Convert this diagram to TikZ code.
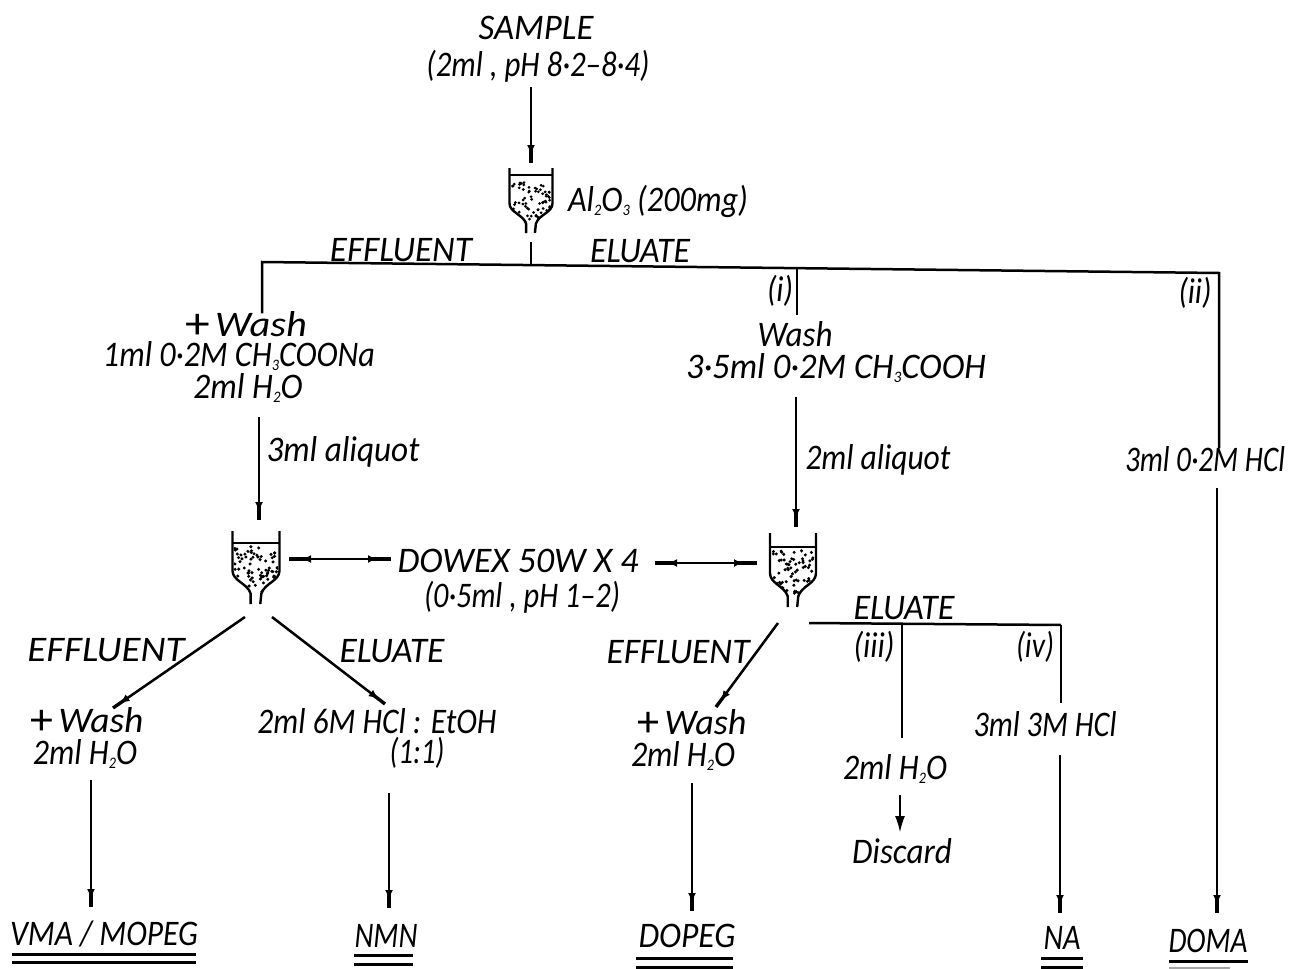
\documentclass[tikz,border=0pt]{standalone}
\usepackage{fontspec}
\usepackage{graphicx}
\setmainfont{Carlito}
\usetikzlibrary{arrows.meta,calc}
\newcommand{\low}[1]{\raisebox{-4pt}{\fontsize{16}{16}\selectfont #1}}
\newcommand{\bigplus}{\raisebox{-2pt}{\fontsize{44}{36}\selectfont\upshape +}\hspace{5pt}}
\newcommand{\fw}[2]{\resizebox{#1pt}{\height}{#2}}
\tikzset{
  lab/.style={inner sep=0pt,outer sep=0pt,text height=23.2pt,text depth=0pt,font=\fontsize{36}{36}\selectfont\itshape},
  ln/.style={line width=2.5pt,black},
  arr/.style={ln,-{Latex[length=10pt,width=8pt,sep=-6pt]Rectangle[length=14pt,width=3.4pt,sep=0pt]}},
  arrb/.style={ln,-{Latex[length=17pt,width=10pt]}},
  dbl/.style={ln,{Rectangle[length=18pt,width=3.2pt,sep=0pt]Latex[length=9pt,width=8pt,sep=-5pt]}-{Latex[length=9pt,width=8pt,sep=-5pt]Rectangle[length=19pt,width=3.2pt,sep=0pt]}},
  fnl/.style={inner sep=0pt,outer sep=0pt,draw=none},
  under/.style={line width=3pt,black},
  underfaint/.style={line width=2pt,black!35}
}
% name, centre x, top y, half width, height, bar y
\newcommand{\funnelat}[6]{%
  \node[fnl,minimum width=#4*2pt,minimum height=#5*1pt] (#1) at (#2,#3+#5/2) {};
  \begin{scope}[shift={(#2,#3)},xscale=#4/22,yscale=#5/70]
    \begin{scope}
      \clip (-21,#6*70/#5) -- (21,#6*70/#5) -- (21,38) .. controls (21,48) and (8,50) .. (5,60) -- (-5,60) .. controls (-8,50) and (-21,48) .. (-21,38) -- cycle;
      \foreach \i in {1,...,80}{
        \pgfmathsetmacro{\dx}{rnd*40-20}
        \pgfmathsetmacro{\dy}{rnd*45+15}
        \fill[black] (\dx,\dy) circle[radius=1.6];
      }
    \end{scope}
    \draw[ln,line width=2.4pt,line join=round] (-22,0) -- (-22,38) .. controls (-22,48) and (-8,50) .. (-5,60) -- (-5,70);
    \draw[ln,line width=2.4pt,line join=round] (22,0) -- (22,38) .. controls (22,48) and (8,50) .. (5,60) -- (4,70);
    \draw[ln,line width=2.4pt] (-22,#6*70/#5) -- (22,#6*70/#5);
  \end{scope}}
\begin{document}
\begin{tikzpicture}[x=1pt,y=-1pt]
\useasboundingbox (0,0) rectangle (1294,969);
\pgfmathsetseed{4711}
% funnels
\funnelat{funA}{531}{168}{21.5}{65}{7}
\funnelat{funB}{256}{531}{23.5}{73}{12}
\funnelat{funC}{793}{533}{23}{74}{14}
% labels
\node[lab] (sampleA) at (536,28) {\fw{115}{SAMPLE}};
\node[lab] (sampleB) at (538,65) {\fw{223}{(2ml , pH 8·2–8·4)}};
\node[lab] (alumina) at (658,200) {\fw{180}{Al\low{2}O\low{3} (200mg)}};
\node[lab] (effA) at (401,250) {\fw{142}{EFFLUENT}};
\node[lab] (eluA) at (640,251) {\fw{100}{ELUATE}};
\node[lab] (lblI) at (780,290) {\fw{26}{(i)}};
\node[lab] (lblII) at (1195,292) {\fw{33}{(ii)}};
\node[lab] (washA) at (246,325) {\fw{122}{\bigplus Wash}};
\node[lab] (washAb) at (239,355) {\fw{272}{1ml 0·2M CH\low{3}COONa}};
\node[lab] (washAc) at (248,387) {\fw{109}{2ml H\low{2}O}};
\node[lab] (aliqA) at (343,450) {\fw{153}{3ml aliquot}};
\node[lab] (washB) at (795,335) {\fw{75}{Wash}};
\node[lab] (washBb) at (836,367) {\fw{300}{3·5ml 0·2M CH\low{3}COOH}};
\node[lab] (aliqB) at (878,458) {\fw{145}{2ml aliquot}};
\node[lab] (hclII) at (1205,460) {\fw{160}{3ml 0·2M HCl}};
\node[lab] (dowex) at (518,561) {\fw{241}{DOWEX 50W X 4}};
\node[lab] (dowexb) at (522,596) {\fw{196}{(0·5ml , pH 1–2)}};
\node[lab] (effB) at (106,650) {\fw{157}{EFFLUENT}};
\node[lab] (eluB) at (392,651) {\fw{105}{ELUATE}};
\node[lab] (effC) at (678,652) {\fw{143}{EFFLUENT}};
\node[lab] (eluC) at (904,608) {\fw{101}{ELUATE}};
\node[lab] (lblIII) at (874,646) {\fw{41}{(iii)}};
\node[lab] (lblIV) at (1035,646) {\fw{38}{(iv)}};
\node[lab] (washD) at (87,721) {\fw{113}{\bigplus Wash}};
\node[lab] (washDb) at (85,753) {\fw{104}{2ml H\low{2}O}};
\node[lab] (hclE) at (377,722) {\fw{239}{2ml 6M HCl : EtOH}};
\node[lab] (hclEb) at (417,752) {\fw{55}{(1:1)}};
\node[lab] (washF) at (692,723) {\fw{109}{\bigplus Wash}};
\node[lab] (washFb) at (683,755) {\fw{104}{2ml H\low{2}O}};
\node[lab] (hclG) at (1045,725) {\fw{143}{3ml 3M HCl}};
\node[lab] (waterH) at (895,768) {\fw{104}{2ml H\low{2}O}};
\node[lab] (discard) at (902,852) {\fw{100}{Discard}};
\node[lab] (vma) at (104,934) {\fw{188}{VMA / MOPEG}};
\node[lab] (nmn) at (386,936) {\fw{63}{NMN}};
\node[lab] (dopeg) at (687,936) {\fw{97}{DOPEG}};
\node[lab] (na) at (1062,938) {\fw{37}{NA}};
\node[lab] (doma) at (1208,941) {\fw{79}{DOMA}};
% junctions and free ends
\coordinate (busL) at (262,262);
\coordinate (busR) at (1219,273);
\coordinate (busM) at (531,265);
\coordinate (busI) at (797,268.2);
\coordinate (leftOutA) at (245,617);
\coordinate (leftOutB) at (272,617);
\coordinate (leftEndA) at (113,708);
\coordinate (leftEndB) at (385,704);
\coordinate (rightOut) at (778,623);
\coordinate (rightEnd) at (716,707);
\coordinate (eluL) at (809,623);
\coordinate (eluR) at (1061,625);
\coordinate (eluM) at (902,624);
\coordinate (colA) at (259,520);
\coordinate (colB) at (796,527);
\coordinate (colD) at (91,907);
\coordinate (colE) at (389,908);
\coordinate (colF) at (692,911);
\coordinate (colII) at (1217,913);
\coordinate (colG) at (1060,913);
\coordinate (colH) at (900,833);
\coordinate (dblA) at (289,559);
\coordinate (dblB) at (391,559);
\coordinate (dblC) at (655,563);
\coordinate (dblD) at (757,563);
% connectors
\draw[arr,shorten <=10.4pt,shorten >=5pt] (sampleB.south -| funA.north) -- (funA.north);
\draw[ln,shorten <=9pt] (funA.south) -- (busM);
\draw[ln,line join=miter] (busL |- washA.north) -- (busL) -- (busR) -- (busR |- hclII.north);
\draw[ln,shorten >=8.4pt] (busI) -- (busI |- washB.north);
\draw[arr,shorten <=18.4pt] (washAc.south -| colA) -- (colA);
\draw[arr,shorten <=18.4pt] (washBb.south -| colB) -- (colB);
\draw[arr,shorten <=16.4pt] (hclII.south -| colII) -- (colII);
\draw[dbl] (dblA) -- (dblB);
\draw[dbl] (dblC) -- (dblD);
\draw[arr] (leftOutA) -- (leftEndA);
\draw[arr] (leftOutB) -- (leftEndB);
\draw[arr] (rightOut) -- (rightEnd);
\draw[ln] (eluL) -- (eluR);
\draw[ln,shorten >=18.4pt] (eluM) -- (eluM |- waterH.north);
\draw[ln,shorten >=10.4pt] (eluR) -- (eluR |- hclG.north);
\draw[arr,shorten <=15.4pt] (washDb.south -| colD) -- (colD);
\draw[arr,shorten <=29.4pt] (hclEb.south -| colE) -- (colE);
\draw[arr,shorten <=16.4pt] (washFb.south -| colF) -- (colF);
\draw[arrb,shorten <=15.4pt] (waterH.south -| colH) -- (colH);
\draw[arr,shorten <=18.4pt] (hclG.south -| colG) -- (colG);
% double underlines
\foreach \xa/\xb/\ya/\yb in {12/196/954/962,354/413/955/964,636/733/958/967,1041/1083/958/967}{
  \draw[under] (\xa,\ya) -- (\xb,\ya);
  \draw[under] (\xa,\yb) -- (\xb,\yb);
}
\draw[under] (1169,961) -- (1248,961);
\draw[underfaint] (1169,968) -- (1230,968);
\end{tikzpicture}
\end{document}
